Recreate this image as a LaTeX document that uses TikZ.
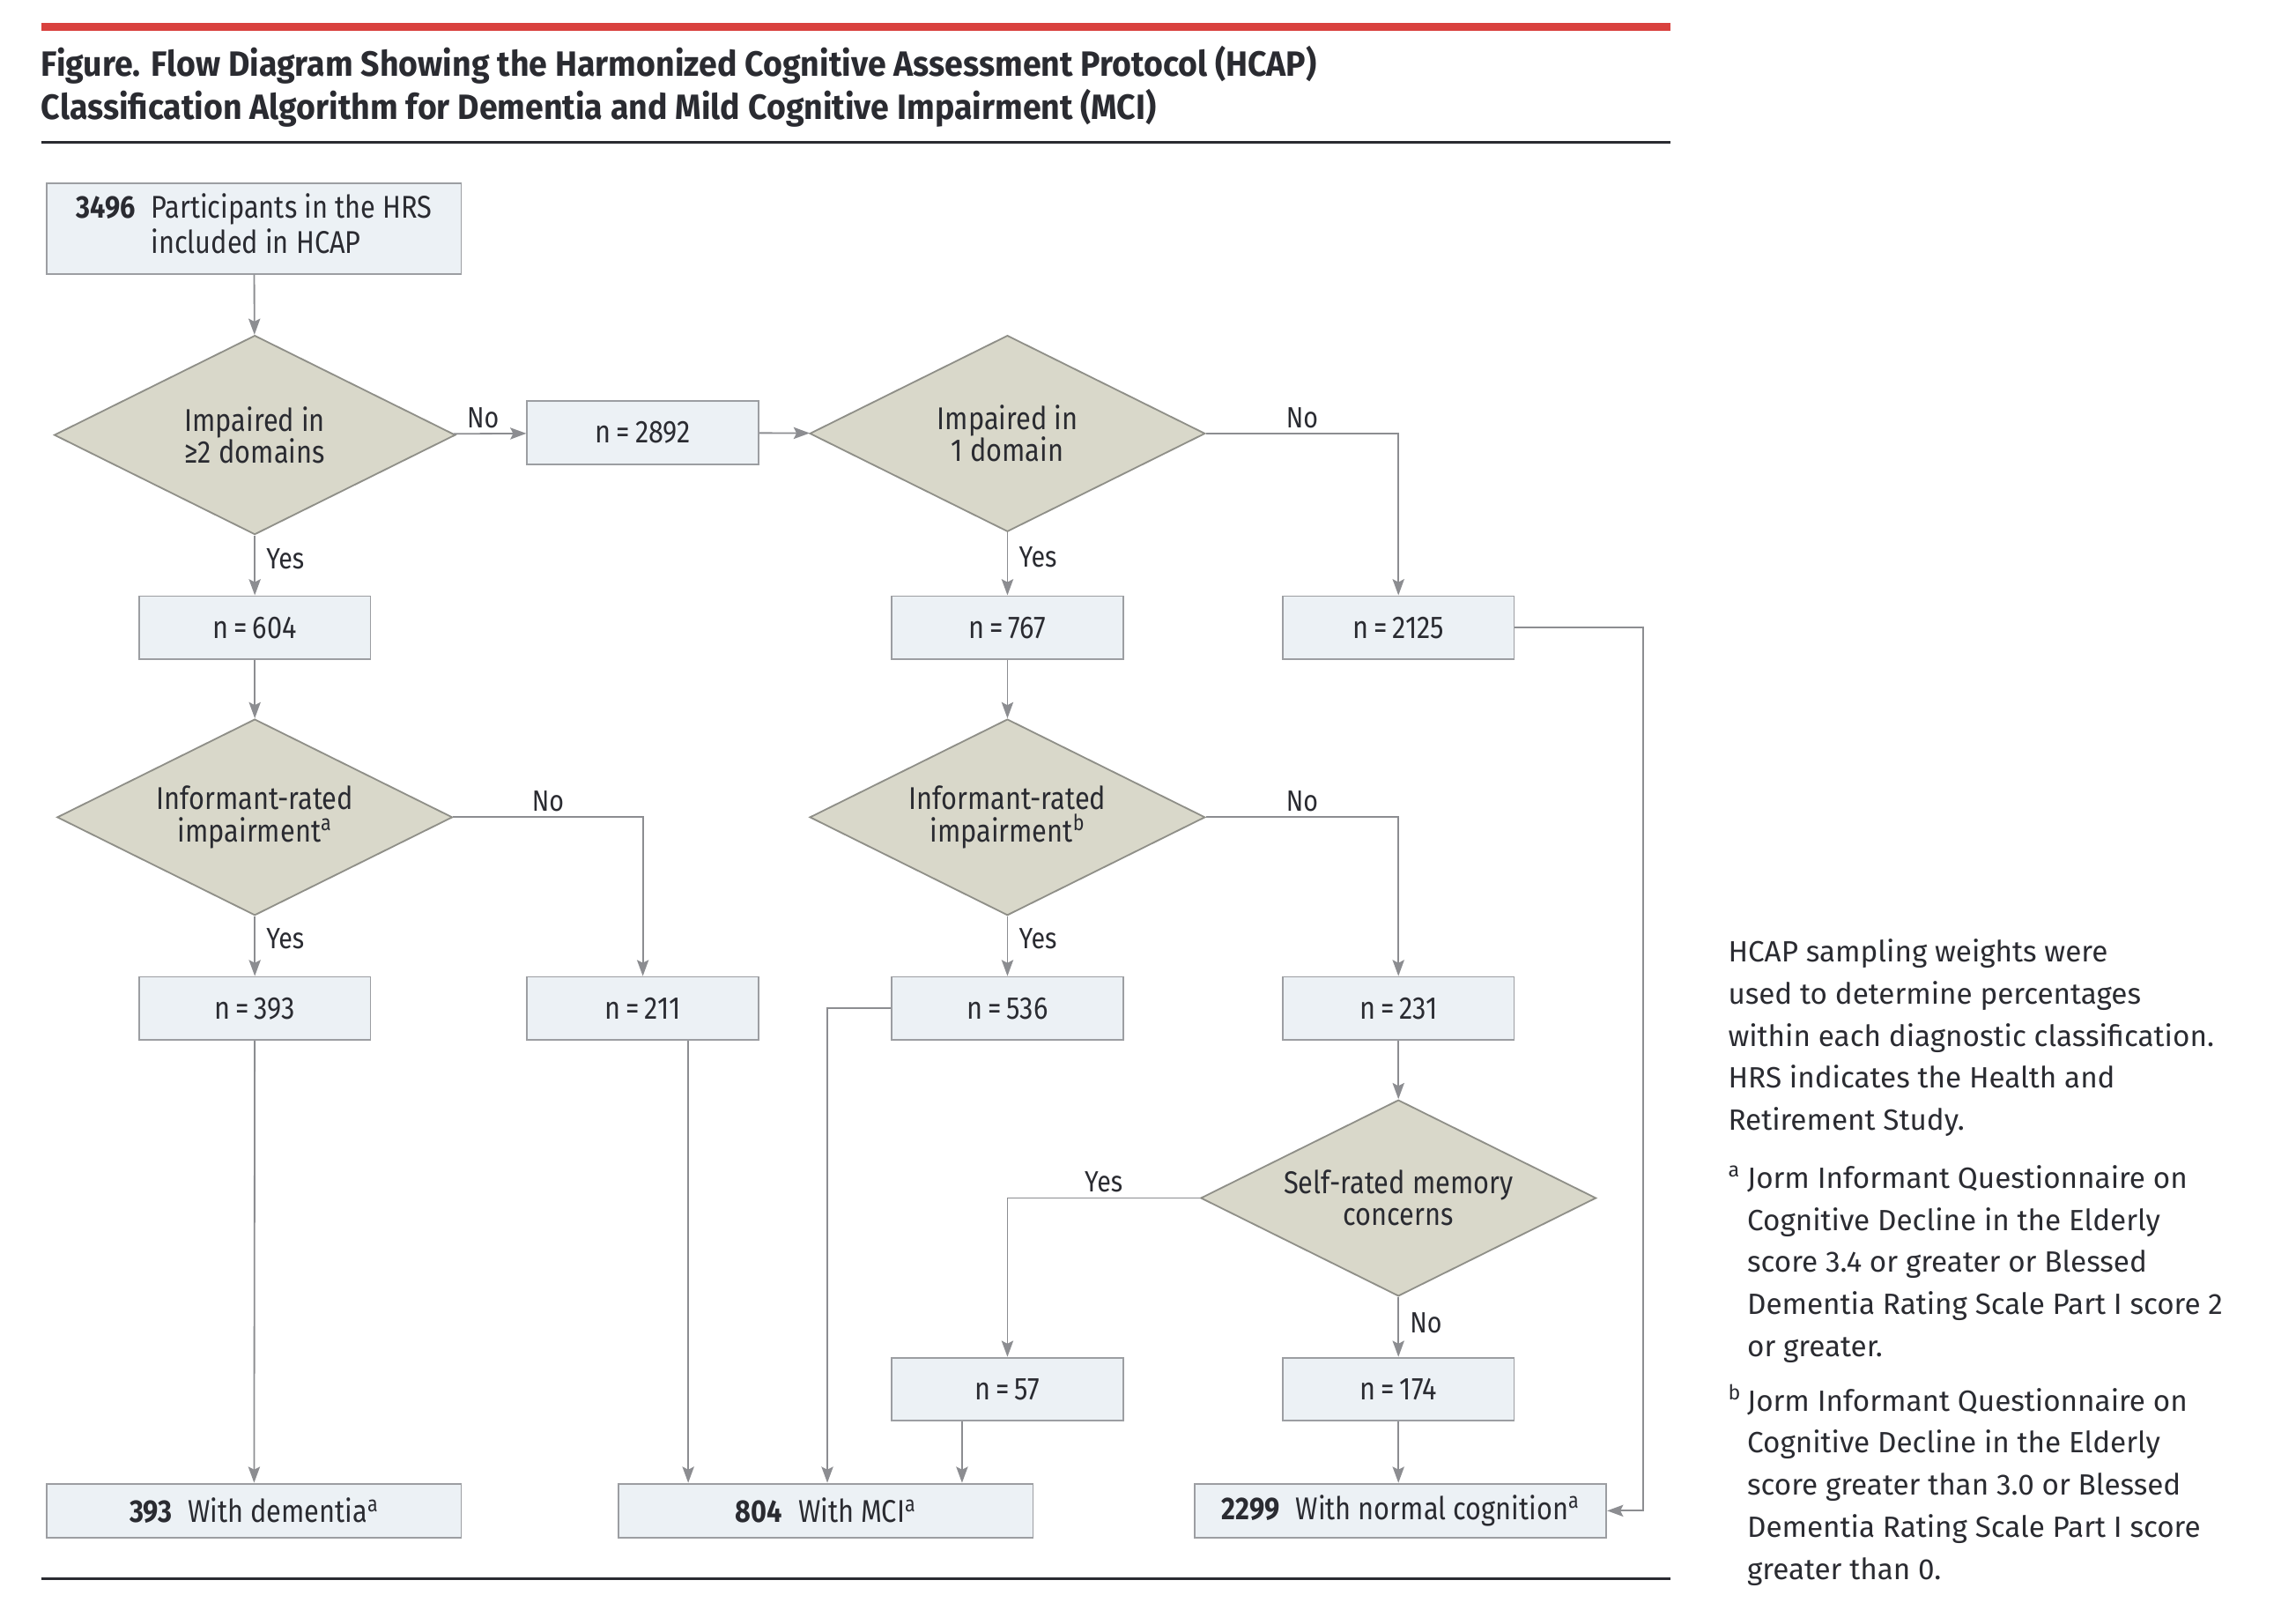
\documentclass[tikz,border=0pt]{standalone}
\usepackage{fontspec}
\setmainfont{Fira Sans}
\newfontfamily\condfont[FakeStretch=0.86]{Fira Sans}
\newfontfamily\headfont[FakeStretch=0.94]{Fira Sans}
\usetikzlibrary{shapes.geometric,arrows.meta}
\definecolor{boxfill}{HTML}{ECF1F5}
\definecolor{boxline}{HTML}{9C9EA2}
\definecolor{decfill}{HTML}{D9D8CA}
\definecolor{decline}{HTML}{8F8F88}
\definecolor{arrgray}{HTML}{8C8D91}
\definecolor{inkdark}{HTML}{2A2B31}
\definecolor{jamared}{HTML}{D9413E}
\newcommand{\nval}[1]{n\thinspace=\thinspace#1}
\tikzset{
	countbox/.style={draw=boxline, fill=boxfill, line width=1.1pt, minimum width=158pt, minimum height=43pt, inner sep=2pt, text=inkdark, font=\condfont\fontsize{21.5}{23}\selectfont},
	widebox/.style={countbox, minimum width=283pt, minimum height=37pt},
	decision/.style={diamond, aspect=2, draw=decline, fill=decfill, line width=1.1pt, minimum width=270pt, minimum height=134pt, inner sep=0pt, align=center, text=inkdark, font=\condfont\fontsize{21.5}{22}\selectfont},
	flow/.style={draw=arrgray, line width=1.1pt, -{Stealth[length=11pt,width=8pt,inset=2pt]}},
	answer/.style={text=inkdark, font=\condfont\fontsize{20}{21}\selectfont},
	notetext/.style={anchor=north west, inner sep=0pt, align=left, text=inkdark, font=\fontsize{20}{28.75}\selectfont},
}
\begin{document}
\begin{tikzpicture}[x=1pt,y=-1pt]
	\useasboundingbox (0,0) rectangle (1568,1099);
	\fill[jamared] (28,15.5) rectangle (1141,21);
	\node[anchor=north west, inner sep=0pt, align=left, text=inkdark, font=\headfont\bfseries\fontsize{24}{30}\selectfont] (title) at (28,31) {Figure. Flow Diagram Showing the Harmonized Cognitive Assessment Protocol (HCAP)\\Classification Algorithm for Dementia and Mild Cognitive Impairment (MCI)};
	\draw[inkdark, line width=2pt] (28,97) -- (1141,97);
	\draw[inkdark, line width=2pt] (28,1078) -- (1141,1078);

	% boxes and decisions
	\node[countbox, minimum width=283pt, minimum height=62pt] (start) at (173.5,156) {\textbf{3496}\enspace\begin{tabular}[t]{@{}l@{}}Participants in the HRS\\included in HCAP\end{tabular}};
	\node[decision, minimum width=274pt, minimum height=136pt] (dtwo) at (174,297) {Impaired in\\≥2 domains};
	\node[countbox] (n2892) at (439,295.5) {\nval{2892}};
	\node[decision] (done) at (688,296) {Impaired in\\1 domain};
	\node[countbox] (n604) at (174,428.5) {\nval{604}};
	\node[countbox] (n767) at (688,428.5) {\nval{767}};
	\node[countbox] (n2125) at (955,428.5) {\nval{2125}};
	\node[decision] (infa) at (174,558) {Informant-rated\\impairment\textsuperscript{a}};
	\node[decision] (infb) at (688,558) {Informant-rated\\impairment\textsuperscript{b}};
	\node[countbox] (n393) at (174,688.5) {\nval{393}};
	\node[countbox] (n211) at (439,688.5) {\nval{211}};
	\node[countbox] (n536) at (688,688.5) {\nval{536}};
	\node[countbox] (n231) at (955,688.5) {\nval{231}};
	\node[decision] (self) at (955,818) {Self-rated memory\\concerns};
	\node[countbox] (n57) at (688,948.5) {\nval{57}};
	\node[countbox] (n174) at (955,948.5) {\nval{174}};
	\node[widebox] (dementia) at (173.5,1031.5) {\textbf{393}\enspace With dementia\textsuperscript{a}};
	\node[widebox] (mci) at (564,1031.5) {\textbf{804}\enspace With MCI\textsuperscript{a}};
	\node[widebox, minimum width=281pt] (normal) at (956.5,1031.5) {\textbf{2299}\enspace With normal cognition\textsuperscript{a}};
	\coordinate (rail) at (1122,428.5);

	% connectors
	\draw[flow] (start) -- (dtwo);
	\draw[flow] (dtwo) -- node[answer, pos=0.4, above]{No} (n2892);
	\draw[flow] (n2892) -- (done);
	\draw[flow] (done.east) -| node[answer, pos=0.25, above]{No} (n2125.north);
	\draw[flow] (dtwo) -- node[answer, pos=0.4, right=4pt]{Yes} (n604);
	\draw[flow] (done) -- node[answer, pos=0.4, right=4pt]{Yes} (n767);
	\draw[flow] (n604) -- (infa);
	\draw[flow] (n767) -- (infb);
	\draw[flow] (infa.east) -| node[answer, pos=0.25, above]{No} (n211.north);
	\draw[flow] (infa) -- node[answer, pos=0.38, right=4pt]{Yes} (n393);
	\draw[flow] (infb.east) -| node[answer, pos=0.25, above]{No} (n231.north);
	\draw[flow] (infb) -- node[answer, pos=0.38, right=4pt]{Yes} (n536);
	\draw[flow] (n231) -- (self);
	\draw[flow] (self.west) -| node[answer, pos=0.25, above]{Yes} (n57.north);
	\draw[flow] (self) -- node[answer, pos=0.43, right=4pt]{No} (n174);
	\draw[flow] (n2125.east) -- (rail) |- (normal.east);
	\draw[flow] (n393) -- (dementia);
	\draw[flow] ([xshift=31pt]n211.south) -- ([xshift=31pt]n211.south |- mci.north);
	\draw[flow] (n536.west) -| ([xshift=1pt]mci.north);
	\draw[flow] ([xshift=-31pt]n57.south) -- ([xshift=-31pt]n57.south |- mci.north);
	\draw[flow] (n174) -- (n174 |- normal.north);

	% notes
	\node[notetext] (note) at (1180,641) {HCAP sampling weights were\\used to determine percentages\\within each diagnostic classification.\\HRS indicates the Health and\\Retirement Study.};
	\node[notetext] (fna) at (1180,791) {\begin{tabular}{@{}p{13pt}@{}l@{}}\textsuperscript{a} & Jorm Informant Questionnaire on\\ & Cognitive Decline in the Elderly\\ & score 3.4 or greater or Blessed\\ & Dementia Rating Scale Part I score 2\\ & or greater.\end{tabular}};
	\node[notetext] (fnb) at (1180,943) {\begin{tabular}{@{}p{13pt}@{}l@{}}\textsuperscript{b} & Jorm Informant Questionnaire on\\ & Cognitive Decline in the Elderly\\ & score greater than 3.0 or Blessed\\ & Dementia Rating Scale Part I score\\ & greater than 0.\end{tabular}};
\end{tikzpicture}
\end{document}
